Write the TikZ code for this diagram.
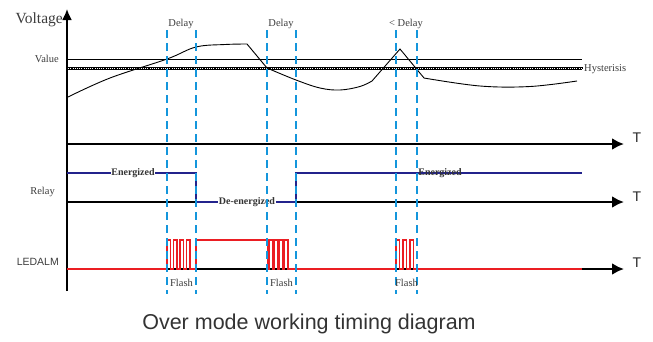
\documentclass[tikz,border=0pt]{standalone}
\usepackage{fontspec}
\setmainfont{Liberation Serif}
\setsansfont{Liberation Sans}
\usetikzlibrary{arrows.meta}
\definecolor{dlyblue}{RGB}{20,150,220}
\definecolor{relblue}{RGB}{35,35,140}
\definecolor{ledred}{RGB}{235,30,35}
\definecolor{txtgray}{RGB}{60,60,60}
\begin{document}
\begin{tikzpicture}[x=1pt, y=-1pt,
  lbl/.style={text=txtgray, inner sep=1pt, font=\fontsize{10.5}{12}\selectfont},
  state/.style={text=black!80, inner sep=0.6pt, fill=white, font=\bfseries\fontsize{10}{12}\selectfont},
  tlbl/.style={text=black!85, font=\sffamily\fontsize{14}{16}\selectfont},
  taxis/.style={line width=2.6pt, -{Latex[length=12pt,width=12pt]}},
  dly/.style={dlyblue, line width=2.2pt, dash pattern=on 8pt off 5pt}]

\useasboundingbox (0,0) rectangle (653,341);

% voltage axis and levels
\draw[line width=1.8pt, -{Latex[length=11pt,width=10pt]}] (67,291) -- (67,9);
\node[lbl, font=\fontsize{15.5}{17}\selectfont, anchor=east] (volt) at (64,20) {Voltage};
\node[lbl, anchor=east] (val) at (60,59) {Value};
\draw[line width=1pt] (67,59.5) -- (582,59.5);
\draw[line width=0.6pt] (67,67) -- (582,67);
\draw[line width=0.6pt] (67,69.5) -- (582,69.5);
\draw[line width=2.2pt, dash pattern=on 1.2pt off 1pt] (67,68.2) -- (582,68.2);
\node[lbl, anchor=west] (hys) at (583,69) {Hysterisis};

% voltage curve
\begin{scope}[line width=0.9pt]
\draw plot[smooth, tension=0.6] coordinates {(68,97) (110,78) (167,59) (196,47) (225,44.5) (247,44)}
  -- (267,68)
  plot[smooth, tension=0.6] coordinates {(267,68) (296,80) (320,88) (340,90) (360,86.5) (372,81)}
  -- (400,49) -- (424,78)
  plot[smooth, tension=0.6] coordinates {(424,78) (480,86) (530,86.5) (577,81)};
\end{scope}

% time axes
\draw[taxis] (67,144) -- (624,144);
\draw[taxis] (67,202) -- (624,202);
\draw[taxis] (67,269) -- (624,269);
\node[tlbl] (t1) at (637,138) {T};
\node[tlbl] (t2) at (637,197) {T};
\node[tlbl] (t3) at (637,263) {T};

% relay
\node[lbl, anchor=east] (rel) at (56,192) {Relay};
\draw[relblue, line width=1.8pt] (67,173) -- (196,173) -- (196,202) -- (296,202) -- (296,173) -- (582,173);
\node[state] (en1) at (133,173) {Energized};
\node[state] (den) at (247,202) {De-energized};
\node[state, fill=none] (en2) at (440,173) {Energized};

% led
\node[lbl, font=\sffamily\fontsize{10.5}{12}\selectfont, anchor=east] (led) at (60,262) {LEDALM};
\begin{scope}[ledred, line width=1.4pt]
\draw[line width=2.8pt] (67,269) -- (167,269);
\draw (167,269) \foreach \i in {0,...,3}{ -- ++(0,-29) -- ++(3.5,0) -- ++(0,29) -- ++(3,0)}
  -- (196,269) -- (196,240) -- (268,240) -- (268,269)
  \foreach \i in {0,...,3}{ -- ++(1.5,0) -- ++(0,-29) -- ++(3.5,0) -- ++(0,29)} -- (293,269);
\draw[line width=2.8pt] (293,269) -- (396,269);
\draw (396,269) \foreach \i in {0,...,2}{ -- ++(0,-29) -- ++(3.5,0) -- ++(0,29) -- ++(3.5,0)} -- (417,269);
\draw[line width=2.8pt] (417,269) -- (582,269);
\end{scope}

% delay markers
\foreach \xa/\xb/\nm in {167/196/a, 267/296/b, 396/417/c}{
  \draw[dly] (\xa,30) -- (\xa,294);
  \draw[dly] (\xb,30) -- (\xb,294);
  \node[lbl] (fl\nm) at ({(\xa+\xb)/2},283) {Flash};
}
\node[lbl] (d1) at (181,24) {Delay};
\node[lbl] (d2) at (281,24) {Delay};
\node[lbl] (d3) at (406,24) {< Delay};

\node[text=black!80, font=\sffamily\fontsize{21.5}{24}\selectfont] (cap) at (309,324) {Over mode working timing diagram};

\end{tikzpicture}
\end{document}
